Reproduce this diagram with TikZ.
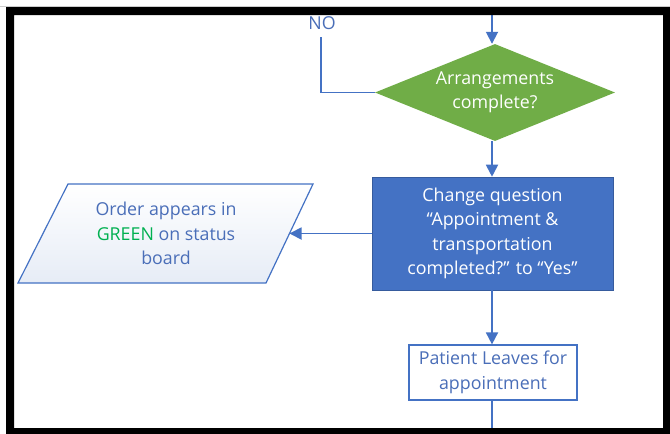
\documentclass[tikz,border=0pt]{standalone}
\usepackage{fontspec}
\setmainfont{Open Sans}
\usetikzlibrary{shapes.geometric,arrows.meta}
\definecolor{fblue}{HTML}{4472C4}
\definecolor{tblue}{HTML}{4A6EB8}
\definecolor{fgreen}{HTML}{70AD47}
\definecolor{ggreen}{HTML}{00B050}
\definecolor{pfill}{HTML}{E6ECF6}
\begin{document}
\begin{tikzpicture}[x=1pt,y=-1pt,
  txt/.style={font=\fontsize{17.8}{24.5}\selectfont, align=center},
  conn/.style={draw=fblue, line width=1.8pt},
  arr/.style={conn, -{Triangle[length=12pt,width=12pt]}},
  decision/.style={diamond, fill=fgreen, draw=none, inner sep=0pt,
     minimum width=240pt, minimum height=97pt},
  procbox/.style={rectangle, fill=fblue, draw=fblue!80!black, line width=0.6pt,
     minimum width=241pt, minimum height=113pt, inner sep=0pt, txt, text=white},
  outbox/.style={rectangle, fill=white, draw=fblue, line width=1.2pt,
     minimum width=168pt, minimum height=55pt, inner sep=0pt, txt, text=tblue},
  ioshape/.style={draw=fblue, line width=1.2pt, top color=white, bottom color=pfill},
  iotext/.style={inner sep=0pt, txt, text=tblue},
  frame/.style={fill=black, even odd rule}
]
\useasboundingbox (0,0) rectangle (670,434);
\fill[white] (0,0) rectangle (670,434);

\node[decision, label={[txt, text=white]center:Arrangements\\complete?}] (dec) at (495,92.5) {};
\node[procbox] (box) at (492.5,233.5) {Change question\\“Appointment \&\\transportation\\completed?” to “Yes”};
\path[ioshape] (68,184) -- (313,184) -- (266,283) -- (18,283) -- cycle;
\node[iotext] (par) at (166,233.5) {Order appears in\\{\color{ggreen}GREEN} on status\\board};
\coordinate (parR) at (289.5,233.5);
\node[outbox] (leave) at (493,372.5) {Patient Leaves for\\appointment};
\node[txt, text=tblue, inner sep=0pt] (no) at (322,23) {NO};

\coordinate (topin) at (492,12);
\coordinate (nostart) at (321,37);
\coordinate (botout) at (492,432);

\draw[arr] (topin) -- (dec.north -| topin);
\draw[arr] (dec.south -| topin) -- (box.north -| topin);
\draw[arr] (box.west) -- (parR);
\draw[arr] (box.south -| topin) -- (leave.north -| topin);
\draw[conn] (leave.south -| topin) -- (botout);
\draw[conn] (nostart) |- (dec.west);

% outer frame
\draw[gray!40, line width=0.8pt] (0,6.5) -- (670,6.5);
\path[frame] (6,7) rectangle (670,434) (14,15) rectangle (663,428);
\end{tikzpicture}
\end{document}
